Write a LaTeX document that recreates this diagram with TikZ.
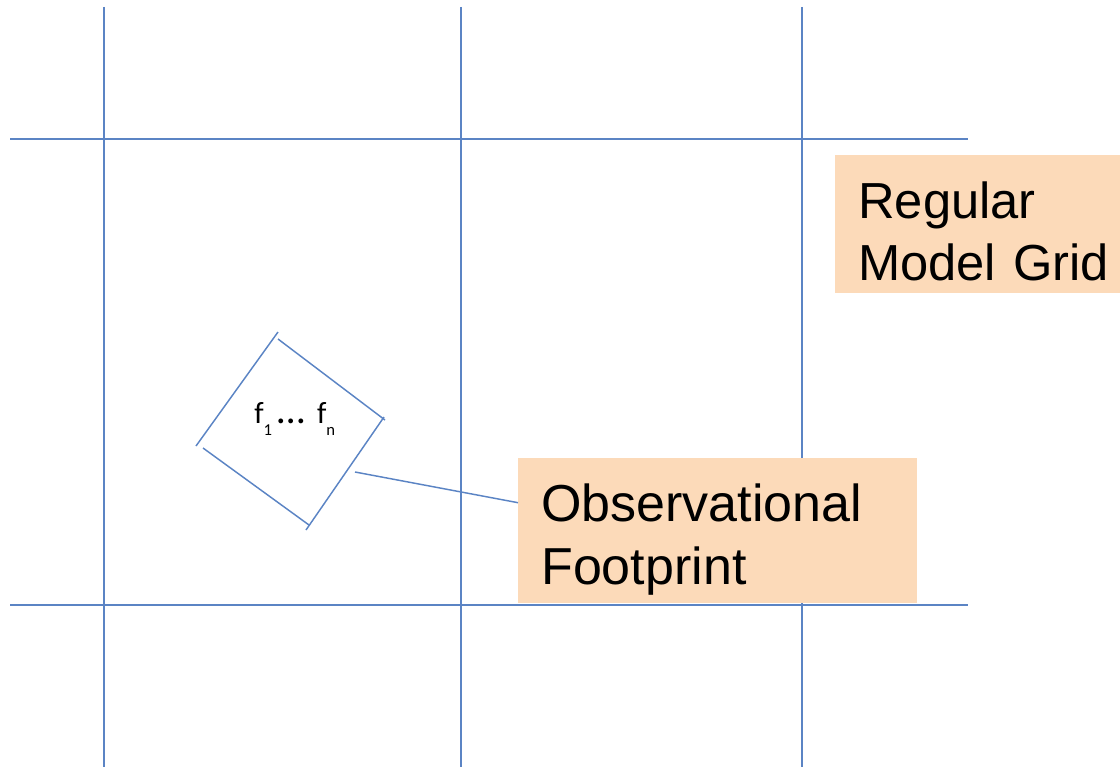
\documentclass[tikz,border=0pt]{standalone}
\usepackage{fontspec}
\setmainfont{Liberation Sans}
\newfontfamily\calib{Carlito}
\definecolor{gridblue}{HTML}{5B84C4}
\definecolor{peach}{HTML}{FCDAB9}
\newcommand{\fpsub}[1]{\raisebox{-9.5pt}{\fontsize{12.5}{12.5}\selectfont #1}}
\tikzset{
  gridline/.style={draw=gridblue, line width=1.3pt},
  fpline/.style={draw=gridblue, line width=1.1pt},
  labelbox/.style={fill=peach, draw=none, anchor=north west, align=left,
    inner xsep=17.25pt, inner ysep=0pt},
}
\begin{document}
\begin{tikzpicture}[x=0.75pt,y=-0.75pt]
\useasboundingbox (0,0) rectangle (1120,767);
% grid
\draw[gridline] (104,7) -- (104,767);
\draw[gridline] (461,7) -- (461,767);
\draw[gridline] (802,7) -- (802,767);
\draw[gridline] (10,139) -- (968,139);
\draw[gridline] (10,605) -- (968,605);
% label boxes
\node[labelbox, minimum width=213.75pt, minimum height=103.5pt, text width=200pt,
  font=\fontsize{38}{46.5}\selectfont] (grid) at (835,155)
  {\rule{0pt}{37.5pt}Regular\\Model Grid};
\node[labelbox, minimum width=299.25pt, minimum height=108.75pt, text width=264.75pt,
  font=\fontsize{39}{47.25}\selectfont] (obs) at (518,458)
  {\rule{0pt}{41.6pt}Observational\\Footprint\rule[-8.25pt]{0pt}{0pt}};
% footprint
\draw[fpline] (196,446) -- (278,332);
\draw[fpline] (278,339) -- (385,420);
\draw[fpline] (384,417) -- (306,530);
\draw[fpline] (203,448) -- (309,525);
\node[font=\calib\fontsize{23}{23}\selectfont, inner sep=0pt, anchor=base west] (fp) at (254,423)
  {f\fpsub{1}\hspace{4pt}{\fontsize{30}{30}\selectfont …}\hspace{9pt}f\fpsub{n}};
\coordinate (fpside) at (355,472);
\draw[fpline] (fpside) -- (obs.172);
\end{tikzpicture}
\end{document}
